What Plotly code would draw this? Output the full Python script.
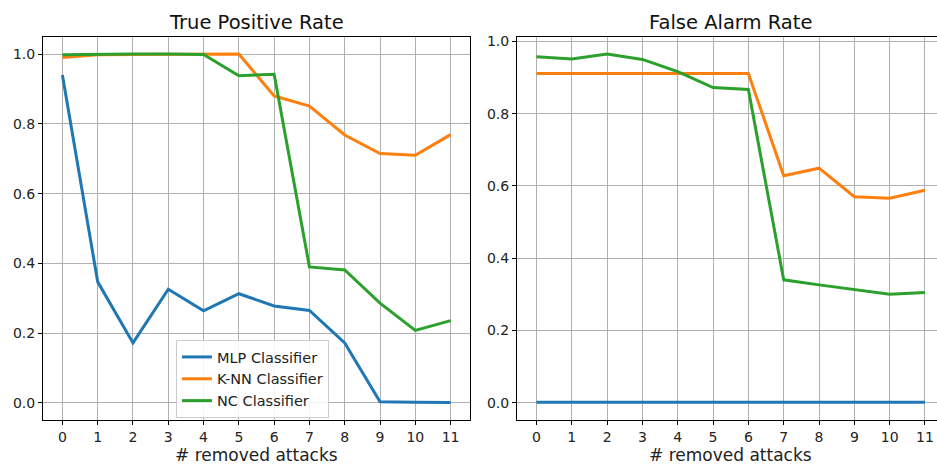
import plotly.graph_objects as go

x = list(range(12))
tick_labels = [str(i) for i in x]
series_names = ["MLP Classifier", "K-NN Classifier", "NC Classifier"]
colors = ["#1f77b4", "#ff7f0e", "#2ca02c"]
x_title = "# removed attacks"
panel_titles = ["True Positive Rate", "False Alarm Rate"]

tpr_mlp = [0.94, 0.347, 0.172, 0.326, 0.264, 0.313, 0.278, 0.265, 0.172, 0.003, 0.002, 0.001]
tpr_knn = [0.99, 0.998, 0.999, 0.999, 1.0, 1.0, 0.880, 0.851, 0.768, 0.715, 0.710, 0.769]
tpr_nc = [0.998, 1.0, 1.0, 1.0, 0.999, 0.938, 0.942, 0.39, 0.381, 0.286, 0.208, 0.236]

far_mlp = [0.001] * 12
far_knn = [0.911, 0.911, 0.911, 0.911, 0.911, 0.911, 0.911, 0.628, 0.649, 0.570, 0.566, 0.588]
far_nc = [0.957, 0.951, 0.965, 0.950, 0.916, 0.872, 0.867, 0.340, 0.326, 0.314, 0.300, 0.305]

fig = go.Figure()
for i, (name, ys) in enumerate(zip(series_names, [tpr_mlp, tpr_knn, tpr_nc])):
    fig.add_trace(go.Scatter(x=x, y=ys, mode="lines", name=name,
                             line=dict(color=colors[i], width=3),
                             xaxis="x", yaxis="y", showlegend=True))
for i, (name, ys) in enumerate(zip(series_names, [far_mlp, far_knn, far_nc])):
    fig.add_trace(go.Scatter(x=x, y=ys, mode="lines", name=name,
                             line=dict(color=colors[i], width=3),
                             xaxis="x2", yaxis="y2", showlegend=False))

font = "DejaVu Sans, sans-serif"
axis_common = dict(showgrid=True, gridcolor="#b0b0b0", gridwidth=1,
                   showline=True, linecolor="black", linewidth=1, mirror=True,
                   ticks="outside", ticklen=4, tickcolor="black", automargin=False,
                   tickfont=dict(size=14, color="#222"), zeroline=False)

H = 464
W = 937
ydom = [(H - 420) / H, (H - 37) / H]
yticks = [0, 0.2, 0.4, 0.6, 0.8, 1.0]
ytick_labels = ["0.0", "0.2", "0.4", "0.6", "0.8", "1.0"]

fig.update_layout(
    width=W, height=H,
    margin=dict(l=0, r=0, t=0, b=0, autoexpand=False),
    paper_bgcolor="white", plot_bgcolor="white",
    font=dict(family=font, color="#222"),
    xaxis=dict(domain=[43 / W, 470 / W], range=[-0.55, 11.55], tickmode="array",
               tickvals=x, ticktext=tick_labels, anchor="y", **axis_common),
    yaxis=dict(domain=ydom, range=[-0.049, 1.049], tickmode="array",
               tickvals=yticks, ticktext=ytick_labels, anchor="x", **axis_common),
    xaxis2=dict(domain=[517 / W, 1.0], range=[-0.55, 11.34], tickmode="array",
                tickvals=x, ticktext=tick_labels, anchor="y2", **axis_common),
    yaxis2=dict(domain=ydom, range=[-0.048, 1.012], tickmode="array",
                tickvals=yticks, ticktext=ytick_labels, anchor="x2", **axis_common),
    legend=dict(x=176 / W, y=(H - 340) / H, xanchor="left", yanchor="top",
                bgcolor="rgba(255,255,255,0.85)", bordercolor="#cccccc", borderwidth=1,
                font=dict(size=14.5, color="#222"), tracegroupgap=0, itemwidth=30),
    annotations=[
        dict(text=panel_titles[0], x=(43 + 470) / 2 / W, y=(H - 22) / H,
             xref="paper", yref="paper", showarrow=False, font=dict(size=19.5, color="#111"),
             xanchor="center", yanchor="middle"),
        dict(text=panel_titles[1], x=(517 + 944) / 2 / W, y=(H - 22) / H,
             xref="paper", yref="paper", showarrow=False, font=dict(size=19.5, color="#111"),
             xanchor="center", yanchor="middle"),
        dict(text=x_title, x=(43 + 470) / 2 / W, y=(H - 454.5) / H,
             xref="paper", yref="paper", showarrow=False, font=dict(size=17, color="#222"),
             xanchor="center", yanchor="middle"),
        dict(text=x_title, x=(517 + 944) / 2 / W, y=(H - 454.5) / H,
             xref="paper", yref="paper", showarrow=False, font=dict(size=17, color="#222"),
             xanchor="center", yanchor="middle"),
    ],
)

fig.write_html("out.html", config={"displayModeBar": False},
               post_script="document.body.style.margin='0';document.body.style.overflow='hidden';")
